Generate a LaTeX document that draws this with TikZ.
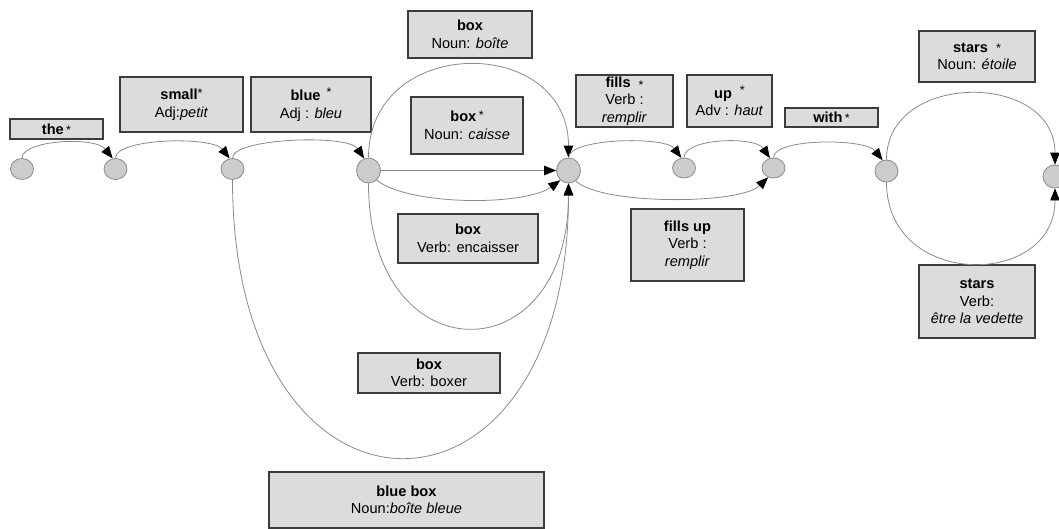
\documentclass[tikz,border=0pt]{standalone}
\usepackage{fontspec}
\setmainfont{Liberation Sans}
\usetikzlibrary{arrows.meta,shapes.geometric}
\definecolor{boxfill}{HTML}{DCDCDC}
\definecolor{boxline}{HTML}{3C3C3C}
\definecolor{stateFill}{HTML}{CCCCCC}
\definecolor{arcgray}{HTML}{8A8A8A}
% small asterisk that flags the preferred reading
\newcommand\stl{\textnormal{\fontsize{12.5}{12}\selectfont *}}
\tikzset{
  lbl/.style={draw=boxline, fill=boxfill, line width=1.1pt, align=center,
    inner sep=0pt, font=\fontsize{14.6}{17.5}\selectfont},
  state/.style={ellipse, draw=arcgray, fill=stateFill, line width=0.8pt,
    inner sep=0pt, minimum width=23pt, minimum height=21pt},
  arc/.style={draw=arcgray, line width=0.8pt,
    -{Triangle[length=12pt,width=9.5pt,color=black]}}
}
\begin{document}
\begin{tikzpicture}[x=1pt,y=-1pt]
\useasboundingbox (0,0) rectangle (1059,528);

% word-lattice states
\node[state] (n1) at (22,169) {};
\node[state] (n2) at (115.5,169) {};
\node[state] (n3) at (232.5,169) {};
\node[state, minimum width=24pt, minimum height=25pt] (n4) at (368.5,170.5) {};
\node[state, minimum width=24pt, minimum height=25pt] (n5) at (568.5,170.5) {};
\node[state, minimum height=20pt] (n6) at (684,168) {};
\node[state, minimum height=20pt] (n7) at (773.5,168) {};
\node[state, minimum height=22pt] (n8) at (886.5,171) {};
\node[state, minimum width=24pt, minimum height=23pt] (n9) at (1055,176.5) {};

% readings
\node[lbl, minimum width=93pt, minimum height=20pt] (the) at (56.5,129) {\textbf{the}\,\stl};
\node[lbl, minimum width=123pt, minimum height=55pt] (small) at (181.5,104.5)
  {\textbf{small}\raisebox{2pt}{\stl}\\Adj:\textit{petit}};
\node[lbl, minimum width=120pt, minimum height=55pt] (blue) at (311,104.5)
  {\textbf{blue}\hspace{6pt}\raisebox{4pt}{\stl}\\Adj : \textit{bleu}};
\node[lbl, minimum width=124pt, minimum height=47pt] (boite) at (470,34.5)
  {\textbf{box}\\Noun: \textit{boîte}};
\node[lbl, minimum width=112pt, minimum height=57pt] (caisse) at (467,125.5)
  {\textbf{box}\,\raisebox{2pt}{\stl}\\Noun: \textit{caisse}};
\node[lbl, minimum width=97pt, minimum height=52pt] (fills) at (624.5,101)
  {\textbf{fills}\hspace{8pt}\raisebox{-2pt}{\stl}\\Verb :\\\textit{remplir}};
\node[lbl, minimum width=85pt, minimum height=52pt] (up) at (729.5,101)
  {\textbf{up}\hspace{8pt}\raisebox{4pt}{\stl}\\Adv : \textit{haut}};
\node[lbl, minimum width=93pt, minimum height=19pt] (with) at (831.5,117.5) {\textbf{with}\,\stl};
\node[lbl, minimum width=116pt, minimum height=51pt] (etoile) at (977,56.5)
  {\textbf{stars}\hspace{8pt}\stl\\Noun: \textit{étoile}};
\node[lbl, minimum width=140pt, minimum height=49pt] (encaisser) at (468,238.5)
  {\textbf{box}\\Verb: encaisser};
\node[lbl, minimum width=142pt, minimum height=40pt] (boxer) at (429,373)
  {\textbf{box}\\Verb: boxer};
\node[lbl, minimum width=113pt, minimum height=72pt] (fillsup) at (687.5,245)
  {\textbf{fills up}\\Verb :\\\textit{remplir}};
\node[lbl, minimum width=116pt, minimum height=73pt] (vedette) at (977,301.5)
  {\textbf{stars}\\Verb:\\\textit{être la vedette}};
\node[lbl, minimum width=275pt, minimum height=56pt] (bluebox) at (406.5,500)
  {\textbf{blue box}\\Noun:\textit{boîte bleue}};

% transitions
\draw[arc] (n1.north) .. controls (22,140) and (95,136) .. (n2.105);
\draw[arc] (n2.north) .. controls (115.5,138) and (212,136) .. (n3.105);
\draw[arc] (n3.north) .. controls (232.5,138) and (348,134) .. (n4.110);
\draw[arc] (n4.east) -- (n5.west);
\draw[arc] (n4.north) .. controls (368.5,34) and (568.5,34) .. (n5.north);
\draw[arc] (n4.-50) .. controls (410,206) and (525,206) .. (n5.-130);
\draw[arc] (n4.south) .. controls (368.5,376) and (568.5,376) .. (n5.south);
\draw[arc] (n3.south) .. controls (232.5,549) and (568.5,549) .. (n5.south);
\draw[arc] (n5.north) .. controls (569,138) and (665,136) .. (n6.105);
\draw[arc] (n6.north) .. controls (684,138) and (755,136) .. (n7.110);
\draw[arc] (n5.-55) .. controls (600,205) and (740,205) .. (n7.-120);
\draw[arc] (n7.north) .. controls (773.5,138) and (865,138) .. (n8.110);
\draw[arc] (n8.north) .. controls (886.5,71) and (1055,71) .. (n9.north);
\draw[arc] (n8.south) .. controls (886.5,289) and (1055,289) .. (n9.south);
\end{tikzpicture}
\end{document}
